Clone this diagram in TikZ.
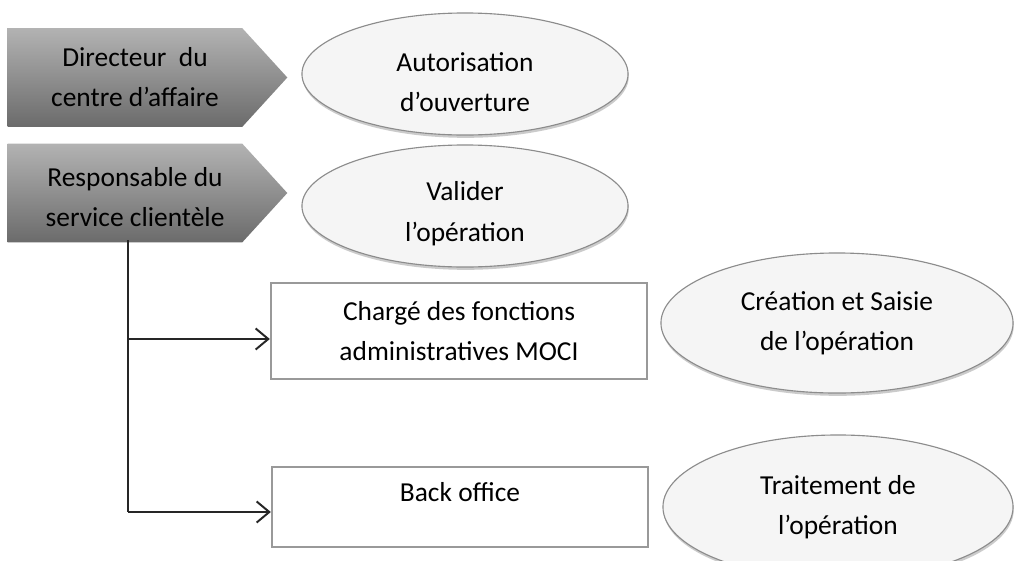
\documentclass[tikz,border=0pt]{standalone}
\usepackage{fontspec}
\setmainfont{Carlito}
\usetikzlibrary{shapes.geometric,shadows,arrows.meta,calc,backgrounds}

\tikzset{
  texte/.style={font=\fontsize{19.5}{28.5}\selectfont, align=center},
  acteur/.style={texte, rectangle, minimum width=6.35cm, minimum height=2.45cm,
    inner sep=0pt},
  fleche/.style={top color=black!30, bottom color=black!58},
  tache/.style={texte, ellipse, draw=black!45, line width=0.8pt, fill=black!4,
    drop shadow={shadow xshift=0.5pt, shadow yshift=-2pt, fill=black!40},
    inner sep=0pt},
  poste/.style={texte, rectangle, draw=black!40, line width=1.6pt, fill=white,
    inner sep=0pt},
  trait/.style={line width=1.2pt, black!85},
  lien/.style={trait, -{Straight Barb[length=9pt,width=15pt,line width=1.4pt]}}
}

\begin{document}
\begin{tikzpicture}[x=0.025cm, y=-0.025cm]
  \clip (0,0) rectangle (1014,560);

  % acteurs
  \node[acteur] (dir) at (135,77.5) {Directeur~ du\\centre d’affaire};
  \node[acteur, text height=48pt] (resp) at (135,193) {Responsable du\\service clientèle};
  \begin{scope}[on background layer]
    \fill[white] (0,0) rectangle (1014,560);
    \foreach \n in {dir,resp}
      \shade[fleche] (\n.north west) -- ($(\n.north east)+(-20,0)$)
        -- ($(\n.east)+(25,0)$) -- ($(\n.south east)+(-20,0)$)
        -- (\n.south west) -- cycle;
  \end{scope}

  % taches
  \node[tache, minimum width=8.15cm, minimum height=3.05cm, text height=53pt] (auto) at (465,74) {Autorisation\\d’ouverture};
  \node[tache, minimum width=8.15cm, minimum height=3.05cm, text height=53pt] (valid) at (465,206) {Valider\\l’opération};
  \node[tache, minimum width=8.8cm, minimum height=3.5cm] (saisie) at (837,323) {Création et Saisie\\de l’opération};
  \node[tache, minimum width=8.75cm, minimum height=3.6cm] (trait) at (838,507) {Traitement de\\l’opération};

  % postes
  \node[poste, minimum width=9.4cm, minimum height=2.4cm] (moci) at (459,331) {Chargé des fonctions\\administratives MOCI};
  \node[poste, minimum width=9.4cm, minimum height=2cm, text depth=0.75cm] (back) at (460,507) {Back office};

  % liaisons
  \coordinate (haut) at (128,240);
  \coordinate (bas) at (128,512);
  \draw[trait] (haut) -- (bas);
  \draw[lien] (haut |- moci.west) ++(0,8) -- ([yshift=-0.2cm]moci.west);
  \draw[lien] (bas) -- (bas -| back.west);
\end{tikzpicture}
\end{document}
